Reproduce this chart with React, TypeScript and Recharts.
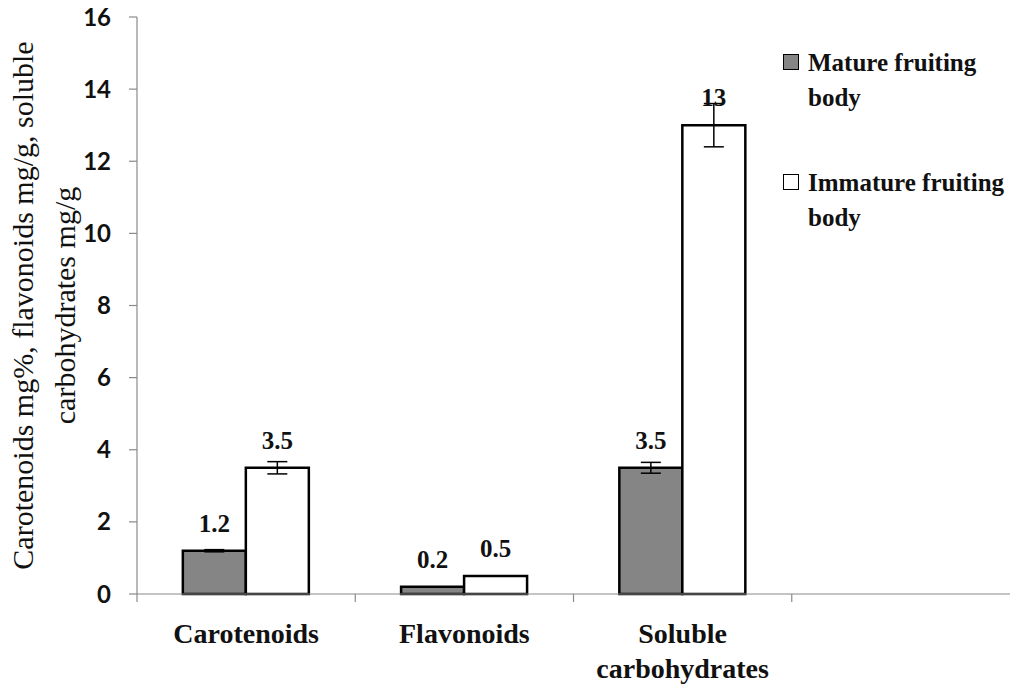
import React from 'react';
import { BarChart, Bar, XAxis, YAxis, ErrorBar, LabelList, Legend } from 'recharts';

const categories = ['Carotenoids', 'Flavonoids', 'Soluble carbohydrates', ''];
const matureValues = [1.2, 0.2, 3.5, null];
const matureErrors = [0.03, 0, 0.15, null];
const immatureValues = [3.5, 0.5, 13, null];
const immatureErrors = [0.17, 0, 0.6, null];
const yTicks = [0, 2, 4, 6, 8, 10, 12, 14, 16];
const seriesNames = ['Mature fruiting body', 'Immature fruiting body'];
const yAxisLabelLines = ['Carotenoids mg%, flavonoids mg/g, soluble', 'carbohydrates mg/g'];

const data = categories.map((c, i) => ({
  name: c,
  mature: matureValues[i],
  matureErr: matureErrors[i],
  immature: immatureValues[i],
  immatureErr: immatureErrors[i],
}));

const SERIF = 'Liberation Serif';
const AXIS_GRAY = '#8a8a8a';

const CategoryTick = (props: any) => {
  const { x, y, payload } = props;
  const half = payload && payload.offset ? payload.offset : 109.125;
  const bx = x - half;
  const text = String(payload?.value ?? '');
  const lines = text.length > 12 ? text.split(' ') : [text];
  return (
    <g>
      <line x1={bx} y1={y} x2={bx} y2={y + 8} stroke={AXIS_GRAY} strokeWidth={1.2} />
      <text x={x} y={y} textAnchor="middle" fontFamily={SERIF} fontWeight="bold" fontSize={28} fill="#111">
        {lines.map((l, i) => (
          <tspan key={i} x={x} dy={i === 0 ? 49 : 35}>
            {l}
          </tspan>
        ))}
      </text>
    </g>
  );
};

const YLabel = (props: any) => {
  const vb = props.viewBox || { x: 0, y: 17, width: 137, height: 577 };
  const cy = vb.y + vb.height / 2;
  const xs = [33, 75];
  return (
    <g>
      {yAxisLabelLines.map((l, i) => (
        <text
          key={i}
          x={xs[i]}
          y={cy}
          transform={`rotate(-90, ${xs[i]}, ${cy})`}
          textAnchor="middle"
          fontFamily={SERIF}
          fontSize={30}
          fill="#111"
        >
          {l}
        </text>
      ))}
    </g>
  );
};

const LegendContent = (props: any) => {
  const fills = ['#858585', '#ffffff'];
  return (
    <div style={{ fontFamily: SERIF, fontWeight: 'bold', fontSize: 25, color: '#111' }}>
      {seriesNames.map((n, i) => (
        <div key={i} style={{ display: 'flex', alignItems: 'flex-start', marginBottom: i === 0 ? 50 : 0 }}>
          <div
            style={{
              width: 14,
              height: 14,
              marginTop: 9,
              marginRight: 9,
              border: '1.5px solid #000',
              background: fills[i],
              flex: '0 0 auto',
            }}
          />
          <div style={{ width: 202, lineHeight: '35px' }}>{n}</div>
        </div>
      ))}
    </div>
  );
};

const valueLabelStyle = { fontFamily: SERIF, fontWeight: 'bold', fontSize: 25, fill: '#111' };

export default function App() {
  return (
    <div style={{ position: 'absolute', left: 0, top: 0, background: '#fff' }}>
      <BarChart
        width={1010}
        height={691}
        data={data}
        margin={{ top: 17, right: 0, left: 0, bottom: 0 }}
        barCategoryGap="21%"
        barGap={0}
      >
        <XAxis
          dataKey="name"
          height={97}
          interval={0}
          tickLine={false}
          tickSize={0}
          tickMargin={0}
          axisLine={{ stroke: AXIS_GRAY, strokeWidth: 1.2 }}
          tick={<CategoryTick />}
        />
        <YAxis
          width={137}
          domain={[0, 16]}
          ticks={yTicks}
          interval={0}
          tickSize={8}
          tickMargin={18}
          axisLine={{ stroke: AXIS_GRAY, strokeWidth: 1.2 }}
          tickLine={{ stroke: AXIS_GRAY, strokeWidth: 1.2 }}
          tick={{ fontFamily: 'Lato', fontWeight: 'bold', fontSize: 24, fill: '#111' }}
          label={YLabel}
        />
        <Legend
          layout="vertical"
          verticalAlign="middle"
          align="center"
          content={<LegendContent />}
          wrapperStyle={{ left: 783, top: 45, width: 227 }}
        />
        <Bar dataKey="mature" name={seriesNames[0]} fill="#858585" stroke="#000" strokeWidth={2.5} isAnimationActive={false}>
          <ErrorBar dataKey="matureErr" width={10} stroke="#000" strokeWidth={1.5} />
          <LabelList dataKey="mature" position="top" offset={19} style={valueLabelStyle} />
        </Bar>
        <Bar dataKey="immature" name={seriesNames[1]} fill="#ffffff" stroke="#000" strokeWidth={2.5} isAnimationActive={false}>
          <ErrorBar dataKey="immatureErr" width={10} stroke="#000" strokeWidth={1.5} />
          <LabelList dataKey="immature" position="top" offset={19} style={valueLabelStyle} />
        </Bar>
      </BarChart>
    </div>
  );
}
